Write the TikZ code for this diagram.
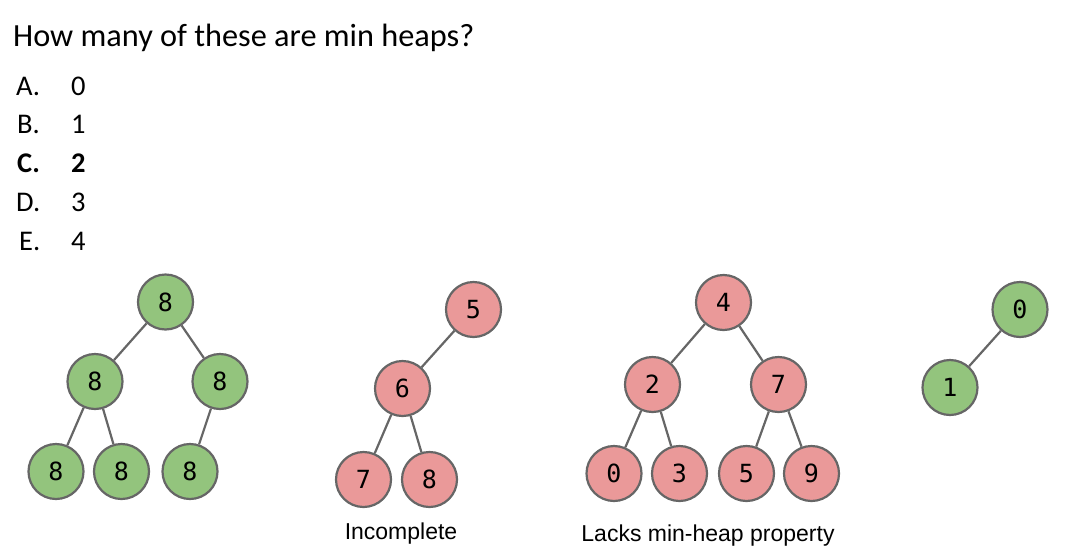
\documentclass[tikz,border=0pt]{standalone}
\usepackage{fontspec}
\setmainfont{Carlito}
\newfontfamily\capfont{Liberation Sans}
\newfontfamily\digfont{DejaVu Sans Mono}
\definecolor{heapgreen}{HTML}{93C47D}
\definecolor{heapred}{HTML}{EA9999}
\definecolor{edgegray}{HTML}{666666}
\tikzset{
  hnode/.style={circle, draw=edgegray, line width=2.2pt, minimum size=55pt, inner sep=0pt, font=\digfont\fontsize{25}{25}\selectfont},
  gnode/.style={hnode, fill=heapgreen},
  rnode/.style={hnode, fill=heapred},
  edge/.style={draw=edgegray, line width=2.2pt},
  qtext/.style={anchor=base west, inner sep=0pt, font=\fontsize{28.5}{28.5}\selectfont},
  captext/.style={inner sep=0pt, font=\capfont\fontsize{23}{23}\selectfont}
}
\begin{document}
\begin{tikzpicture}[x=1pt,y=-1pt]
\useasboundingbox (0,0) rectangle (1075,557);
\fill[white] (0,0) rectangle (1075,557);
% question
\node[qtext, font=\fontsize{32.3}{33}\selectfont] (q) at (13,46) {How many of these are min heaps?};
\node[qtext] (la) at (16,95) {A.};
\node[qtext] (va) at (71,95) {0};
\node[qtext] (lb) at (17,133.5) {B.};
\node[qtext] (vb) at (71,133.5) {1};
\node[qtext] (lc) at (17,172.5) {\bfseries C.};
\node[qtext] (vc) at (71,172.5) {\bfseries 2};
\node[qtext] (ld) at (16,211.5) {D.};
\node[qtext] (vd) at (71,211.5) {3};
\node[qtext] (le) at (19,250) {E.};
\node[qtext] (ve) at (71,250) {4};
% tree 1
\begin{scope}[every node/.append style={font=\digfont\fontsize{28}{28}\selectfont}]
\node[gnode] (a1) at (165.5,302) {8};
\node[gnode] (a2) at (95,381.5) {8};
\node[gnode] (a3) at (220,381.5) {8};
\node[gnode] (a4) at (56,471.5) {8};
\node[gnode] (a5) at (121.5,471.5) {8};
\node[gnode] (a6) at (190,471.5) {8};
\end{scope}
\draw[edge] (a1) -- (a2);
\draw[edge] (a1) -- (a3);
\draw[edge] (a2) -- (a4);
\draw[edge] (a2) -- (a5);
\draw[edge] (a3) -- (a6);
% tree 2
\node[rnode] (b1) at (473.5,309.5) {5};
\node[rnode] (b2) at (402.5,388.5) {6};
\node[rnode] (b3) at (363.5,479.5) {7};
\node[rnode] (b4) at (429.5,479.5) {8};
\draw[edge] (b1) -- (b2);
\draw[edge] (b2) -- (b3);
\draw[edge] (b2) -- (b4);
\node[captext] (capb) at (401,534) {Incomplete};
% tree 3
\node[rnode] (c1) at (723.5,302.5) {4};
\node[rnode] (c2) at (652.5,384.5) {2};
\node[rnode] (c3) at (778.5,384.5) {7};
\node[rnode] (c4) at (614,473.5) {0};
\node[rnode] (c5) at (679.5,473.5) {3};
\node[rnode] (c6) at (746.5,473.5) {5};
\node[rnode] (c7) at (811.5,473.5) {9};
\draw[edge] (c1) -- (c2);
\draw[edge] (c1) -- (c3);
\draw[edge] (c2) -- (c4);
\draw[edge] (c2) -- (c5);
\draw[edge] (c3) -- (c6);
\draw[edge] (c3) -- (c7);
\node[captext] (capc) at (708,536) {Lacks min-heap property};
% tree 4
\node[gnode] (d1) at (1020,309.5) {0};
\node[gnode] (d2) at (950,387.5) {1};
\draw[edge] (d1) -- (d2);
\end{tikzpicture}
\end{document}
